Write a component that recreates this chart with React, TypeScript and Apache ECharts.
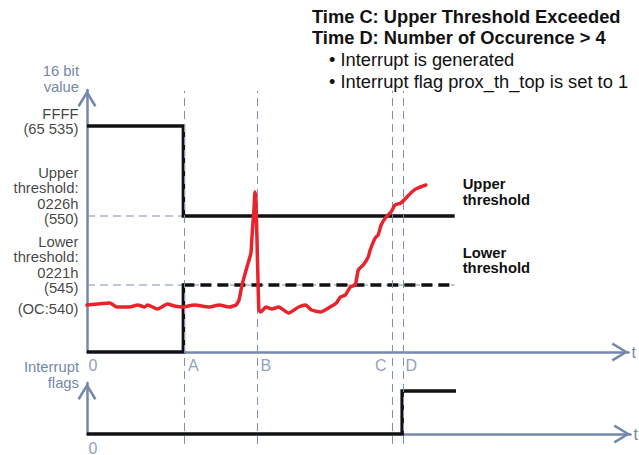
import React, { useEffect, useRef } from 'react';
import * as echarts from 'echarts';

// Schematic axes: time units along t, level units along the 16-bit value axis
const timeMax = 545;
const levelMax = 262;
const flagMax = 1.186;

const eventNames = ['A', 'B', 'C', 'D'];
const eventTimes = [97, 170, 305, 316];
const lineEnd = 370;

const fullScale = 226; // FFFF (65 535)
const upperTh = 136; // 0226h (550)
const lowerTh = 67; // 0221h (545)
const offsetLevel = 46; // OC:540

const levelNames = ['FFFF\n(65 535)', 'Upper\nthreshold:\n0226h\n(550)', 'Lower\nthreshold:\n0221h\n(545)', '(OC:540)'];
const levelValues = [fullScale, upperTh, lowerTh, offsetLevel];

const signalT = [0, 10, 23, 30, 43, 51, 58, 61, 71, 81, 88, 96, 108, 123, 133, 143, 150, 153, 156, 161, 165, 166, 168, 169, 170, 171, 172, 173, 175, 180, 186, 193, 203, 213, 220, 226, 235, 243, 251, 255, 260, 265, 270, 273, 278, 283, 285, 290, 293, 296, 301, 306, 310, 316, 321, 328, 333, 341];
const signalV = [47, 48, 49, 45, 45, 47, 45, 47, 43, 48, 46, 45, 47, 45, 47, 45, 47, 52, 67, 85, 99, 115, 142, 160, 152, 115, 75, 42, 40, 45, 43, 45, 39, 45, 47, 42, 40, 44, 49, 55, 57, 65, 67, 82, 87, 95, 102, 114, 117, 127, 135, 140, 147, 149, 154, 161, 164, 167];

const flagT = [0, 316, 316, 370];
const flagV = [0, 0, 1, 1];

const AXIS = '#7487ad';
const DASH = '#7f90b5';
const INK = '#111111';
const RED = '#e8232b';
const FONT = '"Liberation Sans", Arial, Helvetica, sans-serif';
const CHEVRON = 'path://M0,15.5 L9.5,0 L19,15.5 L16.8,16.8 L9.5,4.6 L2.2,16.8 Z';

function axisLine() {
  return {
    show: true,
    onZero: false,
    symbol: ['none', CHEVRON],
    symbolSize: [19, 17],
    symbolOffset: [0, -8.5],
    lineStyle: { color: AXIS, width: 2.5 },
  };
}

export default function App() {
  const ref = useRef<HTMLDivElement>(null);
  useEffect(() => {
    if (!ref.current) return;
    const chart = echarts.init(ref.current, undefined, { renderer: 'svg' });
    const tA = eventTimes[0];
    const signal = signalT.map((t, i) => [t, signalV[i]]);
    const flags = flagT.map((t, i) => [t, flagV[i]]);
    const lh = 15.5;
    const fs = 14.8;

    const option: any = {
      animation: false,
      textStyle: { fontFamily: FONT },
      grid: [
        { left: 87, top: 90, width: 545, height: 262 },
        { left: 87, top: 383, width: 545, height: 51 },
        { left: 87, top: 91, width: 545, height: 353 },
      ],
      xAxis: [
        {
          gridIndex: 0, type: 'value', min: 0, max: timeMax,
          axisLine: axisLine(), axisTick: { show: false }, axisLabel: { show: false }, splitLine: { show: false },
          name: 't', nameLocation: 'end', nameGap: 3,
          nameTextStyle: { color: AXIS, fontSize: 16, fontFamily: FONT },
        },
        {
          gridIndex: 1, type: 'value', min: 0, max: timeMax,
          axisLine: axisLine(), axisTick: { show: false }, axisLabel: { show: false }, splitLine: { show: false },
          name: 't', nameLocation: 'end', nameGap: 3,
          nameTextStyle: { color: AXIS, fontSize: 16, fontFamily: FONT },
        },
        { gridIndex: 2, type: 'value', min: 0, max: timeMax, show: false },
      ],
      yAxis: [
        {
          gridIndex: 0, type: 'value', min: 0, max: levelMax,
          axisLine: axisLine(), axisTick: { show: false }, axisLabel: { show: false }, splitLine: { show: false },
          name: '16 bit\nvalue', nameLocation: 'end', nameGap: -4.5,
          nameTextStyle: { color: AXIS, fontSize: fs, lineHeight: lh, align: 'right', verticalAlign: 'bottom', padding: [0, 8, 0, 0], fontFamily: FONT },
        },
        {
          gridIndex: 1, type: 'value', min: 0, max: flagMax,
          axisLine: axisLine(), axisTick: { show: false }, axisLabel: { show: false }, splitLine: { show: false },
          name: 'Interrupt\nflags', nameLocation: 'end', nameGap: -7.5,
          nameTextStyle: { color: AXIS, fontSize: fs, lineHeight: lh, align: 'right', verticalAlign: 'bottom', padding: [0, 8, 0, 0], fontFamily: FONT },
        },
        { gridIndex: 2, type: 'value', min: 0, max: 1, show: false },
      ],
      series: [
        {
          type: 'line', xAxisIndex: 2, yAxisIndex: 2, data: [[0, 0]], symbol: 'none', silent: true,
          lineStyle: { opacity: 0 },
          markLine: {
            silent: true, symbol: ['none', 'none'], label: { show: false },
            lineStyle: { type: [8, 5], width: 1, color: DASH },
            data: eventTimes.map((t) => ({ xAxis: t })),
          },
          z: 1,
        },
        {
          type: 'line', data: [[0, upperTh], [tA, upperTh]], symbol: 'none', silent: true,
          lineStyle: { type: [8, 5], width: 1.2, color: DASH }, z: 1,
        },
        {
          type: 'line', data: [[0, lowerTh], [lineEnd, lowerTh]], symbol: 'none', silent: true,
          lineStyle: { type: [8, 5], width: 1.2, color: DASH }, z: 1,
        },
        {
          type: 'line', data: [[0, fullScale], [tA, fullScale], [tA, upperTh], [lineEnd, upperTh]],
          symbol: 'none', silent: true,
          lineStyle: { color: INK, width: 3.5, join: 'miter', cap: 'butt' }, z: 3,
          endLabel: {
            show: true, formatter: 'Upper\nthreshold', distance: 8, offset: [0, -24],
            color: INK, fontWeight: 'bold', fontSize: fs, lineHeight: lh, fontFamily: FONT, align: 'left',
          },
        },
        {
          type: 'line', data: [[0, 0], [tA, 0], [tA, lowerTh], [tA + 2, lowerTh]],
          symbol: 'none', silent: true,
          lineStyle: { color: INK, width: 3.5, join: 'miter', cap: 'butt' }, z: 3,
        },
        {
          type: 'line', data: [[tA, lowerTh], [lineEnd, lowerTh]],
          symbol: 'none', silent: true,
          lineStyle: { color: INK, width: 3.5, type: [11, 6], cap: 'butt' }, z: 3,
          endLabel: {
            show: true, formatter: 'Lower\nthreshold', distance: 8, offset: [0, -24.5],
            color: INK, fontWeight: 'bold', fontSize: fs, lineHeight: lh, fontFamily: FONT, align: 'left',
          },
        },
        {
          type: 'line', data: signal, symbol: 'none', silent: true, smooth: 0.15,
          lineStyle: { color: RED, width: 3.5, cap: 'round', join: 'round' }, z: 5,
        },
        {
          type: 'scatter', silent: true, symbolSize: 1, itemStyle: { color: 'transparent' },
          data: levelValues.map((v, i) => {
            const n = levelNames[i].split('\n').length;
            return {
              value: [0, v],
              label: {
                show: true, position: 'left', distance: 8,
                formatter: levelNames[i], offset: [0, -((n - 1) / 2) * lh + 3],
                color: INK, fontSize: fs, lineHeight: lh, fontFamily: FONT, align: 'right',
              },
            };
          }),
          z: 6,
        },
        {
          type: 'scatter', silent: true, symbolSize: 1, itemStyle: { color: 'transparent' },
          data: [
            { value: [0, 0], label: { show: true, position: 'right', distance: 1, formatter: '0', offset: [0, 13], color: AXIS, fontSize: 16, fontFamily: FONT } },
            ...eventTimes.map((t, i) => ({
              value: [t, 0],
              label: {
                show: true, position: i === 2 ? 'left' : 'right', distance: i === 2 ? 3 : 4,
                formatter: eventNames[i], offset: [0, 13], color: AXIS, fontSize: 16, fontFamily: FONT,
              },
            })),
          ],
          z: 6,
        },
        {
          type: 'line', xAxisIndex: 1, yAxisIndex: 1, data: flags, symbol: 'none', silent: true,
          lineStyle: { color: INK, width: 3.5, join: 'miter', cap: 'butt' }, z: 3,
        },
        {
          type: 'scatter', xAxisIndex: 1, yAxisIndex: 1, silent: true, symbolSize: 1, itemStyle: { color: 'transparent' },
          data: [{ value: [0, 0], label: { show: true, position: 'right', distance: 1, formatter: '0', offset: [0, 14], color: AXIS, fontSize: 16, fontFamily: FONT } }],
          z: 6,
        },
      ],
      graphic: [
        { type: 'text', x: 312, y: 16.5, silent: true, style: { text: 'Time C: Upper Threshold Exceeded', fill: INK, fontSize: 18.3, fontWeight: 'bold', fontFamily: FONT, verticalAlign: 'middle', align: 'left' } },
        { type: 'text', x: 312, y: 37, silent: true, style: { text: 'Time D: Number of Occurence > 4', fill: INK, fontSize: 18.3, fontWeight: 'bold', fontFamily: FONT, verticalAlign: 'middle', align: 'left' } },
        { type: 'text', x: 329, y: 59.5, silent: true, style: { text: '• Interrupt is generated', fill: INK, fontSize: 18.3, fontFamily: FONT, verticalAlign: 'middle', align: 'left' } },
        { type: 'text', x: 329, y: 81, silent: true, style: { text: '• Interrupt flag prox_th_top is set to 1', fill: INK, fontSize: 18.3, fontFamily: FONT, verticalAlign: 'middle', align: 'left' } },
      ],
    };
    chart.setOption(option);
    return () => chart.dispose();
  }, []);
  return <div ref={ref} style={{ position: 'fixed', left: 0, top: 0, width: 639, height: 455, background: '#ffffff' }} />;
}
